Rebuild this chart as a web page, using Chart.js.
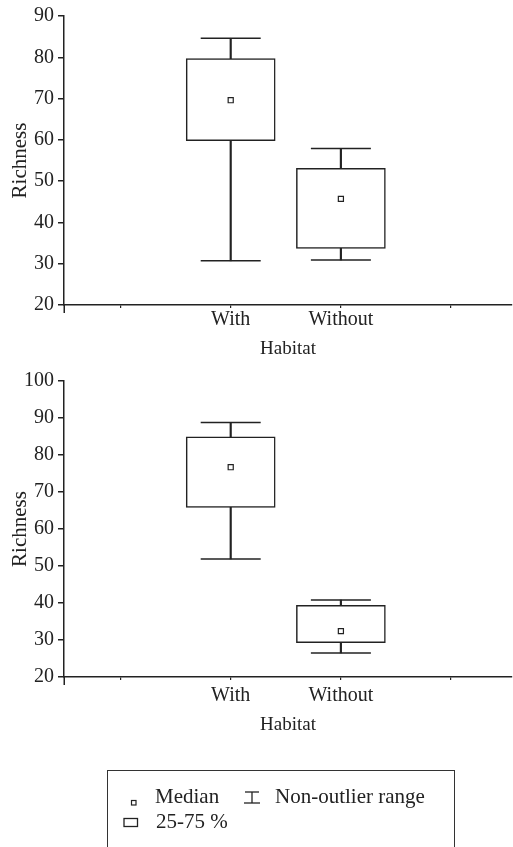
<!DOCTYPE html>
<html>
<head>
<meta charset="utf-8">
<script src="https://cdn.jsdelivr.net/npm/chart.js@4.4.1/dist/chart.umd.min.js"></script>
<style>
  html, body { margin: 0; padding: 0; background: #fff; }
  body { width: 513px; height: 847px; position: relative; overflow: hidden;
         font-family: 'Liberation Serif', 'DejaVu Serif', serif; color: #222; }
  canvas { position: absolute; left: 0; }
  #c1 { top: 0; }
  #c2 { top: 360px; }
  #legend { position: absolute; left: 107px; top: 770px; width: 348px; height: 100px;
            border: 1.5px solid #333; box-sizing: border-box; }
  .lt { position: absolute; font-size: 21px; line-height: 20px; white-space: nowrap; }
  svg { position: absolute; left: 0; top: 0; overflow: visible; }
</style>
</head>
<body>
<canvas id="c1" width="513" height="360"></canvas>
<canvas id="c2" width="513" height="376"></canvas>
<div id="legend"></div>
<svg width="513" height="847">
  <rect x="131.5" y="800.5" width="4.5" height="4.5" fill="#fff" stroke="#222" stroke-width="1.2"/>
  <line x1="245" y1="792" x2="259" y2="792" stroke="#222" stroke-width="1.3"/>
  <line x1="252" y1="792" x2="252" y2="803" stroke="#222" stroke-width="1.3"/>
  <line x1="244" y1="803" x2="260" y2="803" stroke="#222" stroke-width="1.3"/>
  <rect x="124" y="818.5" width="13.5" height="8" fill="#fff" stroke="#222" stroke-width="1.3"/>
</svg>
<span class="lt" style="left:155px; top:785.6px;">Median</span>
<span class="lt" style="left:275px; top:785.6px;">Non-outlier range</span>
<span class="lt" style="left:156px; top:811.2px;">25-75 %</span>
<script>
// ---- data ----
const categories = ['With', 'Without'];
const categoryPositions = [2, 3];
const xTickValues = [1, 2, 3, 4];

// Panel 1
const top_min    = [30.7, 30.9];
const top_q1     = [59.8, 33.7];
const top_median = [69.6, 45.7];
const top_q3     = [79.7, 53.1];
const top_max    = [84.6, 57.9];
const top_yTicks = [20, 30, 40, 50, 60, 70, 80, 90];

// Panel 2
const bot_min    = [51.9, 26.5];
const bot_q1     = [65.8, 29.3];
const bot_median = [76.7, 32.4];
const bot_q3     = [84.9, 39.4];
const bot_max    = [88.8, 40.8];
const bot_yTicks = [20, 30, 40, 50, 60, 70, 80, 90, 100];

const INK = '#222';
Chart.defaults.font.family = "'Liberation Serif', 'DejaVu Serif', serif";
Chart.defaults.font.size = 20;
Chart.defaults.color = INK;

const axisExtend = {
  id: 'axisExtend',
  afterDraw(chart) {
    const ctx = chart.ctx, a = chart.chartArea;
    ctx.save();
    ctx.strokeStyle = INK; ctx.lineWidth = 1.5;
    ctx.beginPath();
    ctx.moveTo(a.left + 0.25, a.bottom);
    ctx.lineTo(a.left + 0.25, a.bottom + 8);
    ctx.stroke();
    ctx.restore();
  }
};

function makeChart(id, mins, q1s, meds, q3s, maxs, yTicks, cfg) {
  const pts = (arr) => categoryPositions.map((x, i) => ({ x: x, y: arr[i] }));
  const rng = (a, b) => categoryPositions.map((x, i) => ({ x: x, y: [a[i], b[i]] }));
  return new Chart(document.getElementById(id), {
    type: 'bar',
    data: {
      datasets: [
        { type: 'scatter', data: pts(meds), order: -1, clip: false,
          pointStyle: 'rect', pointRadius: 3.6, pointBorderWidth: 1.2,
          pointBackgroundColor: '#fff', pointBorderColor: INK },
        { type: 'bar', data: rng(q1s, q3s), order: 0, grouped: false,
          barThickness: 89, backgroundColor: '#fff', borderColor: INK,
          borderWidth: 1.5, borderSkipped: false },
        { type: 'bar', data: rng(mins, maxs), order: 1, grouped: false,
          barThickness: 1.5, backgroundColor: INK, borderWidth: 0 },
        { type: 'scatter', data: pts(maxs).concat(pts(mins)), order: 2, clip: false,
          pointStyle: 'line', pointRadius: 30, pointBorderWidth: 1.5,
          pointBorderColor: INK }
      ]
    },
    options: {
      responsive: false,
      animation: false,
      events: [],
      devicePixelRatio: 1,
      layout: { autoPadding: false, padding: { top: cfg.padTop, right: 1, bottom: 0, left: 0 } },
      plugins: { legend: { display: false }, tooltip: { enabled: false } },
      scales: {
        x: {
          type: 'linear', min: 0.487, max: 4.553, offset: false,
          afterBuildTicks: (s) => { s.ticks = xTickValues.map(v => ({ value: v })); },
          afterFit: (s) => { s.height = cfg.xHeight; },
          ticks: {
            padding: cfg.xPad, maxRotation: 0, autoSkip: false,
            callback: (v) => { const i = categoryPositions.indexOf(v); return i >= 0 ? categories[i] : ''; }
          },
          grid: { offset: false, drawOnChartArea: false, drawTicks: true, tickLength: 3,
                  color: INK, lineWidth: 1.2 },
          border: { display: true, color: INK, width: 1.5 },
          title: { display: true, text: 'Habitat', padding: { top: 0, bottom: 0 },
                   font: { size: 19 } }
        },
        y: {
          type: 'linear', min: yTicks[0], max: yTicks[yTicks.length - 1],
          afterBuildTicks: (s) => { s.ticks = yTicks.map(v => ({ value: v })); },
          afterFit: (s) => { s.width = 64; },
          ticks: { padding: 4 },
          grid: { drawOnChartArea: false, drawTicks: true, tickLength: 6,
                  color: INK, lineWidth: 1.5 },
          border: { display: true, color: INK, width: 1.5 },
          title: { display: true, text: 'Richness', padding: { top: 8, bottom: 0 },
                   font: { size: 21 } }
        }
      }
    },
    plugins: [axisExtend]
  });
}

makeChart('c1', top_min, top_q1, top_median, top_q3, top_max, top_yTicks,
          { padTop: 16, xHeight: 55, xPad: 0 });
makeChart('c2', bot_min, bot_q1, bot_median, bot_q3, bot_max, bot_yTicks,
          { padTop: 21, xHeight: 59, xPad: 4 });
</script>
</body>
</html>
